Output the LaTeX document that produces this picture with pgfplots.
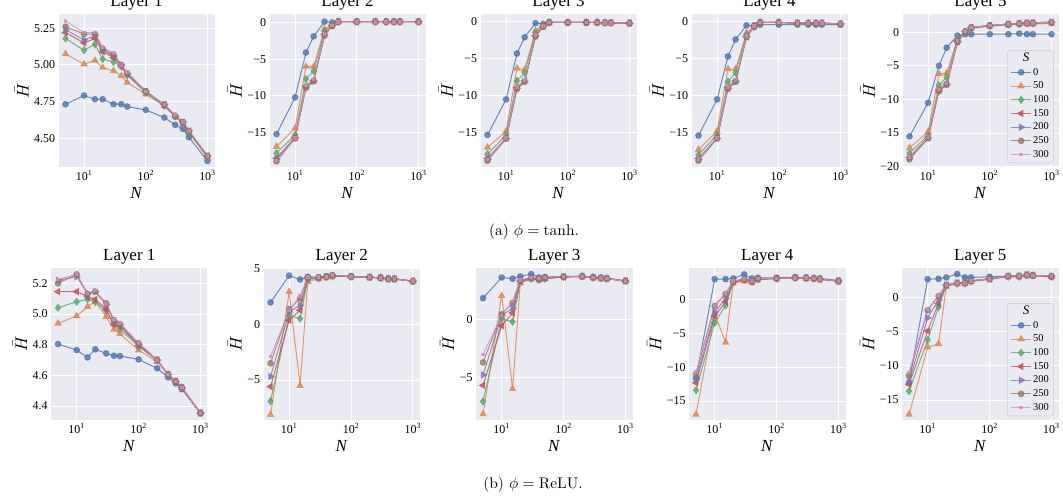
\documentclass[border=0pt]{standalone}
\usepackage{fontspec}
\usepackage{graphicx}
\usepackage{pgfplots}
\usepackage{pgfplotstable}
\pgfplotsset{compat=1.18}
\newfontfamily\tnr{Liberation Serif}
\definecolor{bgc}{HTML}{EAEAF2}
\definecolor{c0}{HTML}{4C72B0}
\definecolor{c1}{HTML}{DD8452}
\definecolor{c2}{HTML}{55A868}
\definecolor{c3}{HTML}{C44E52}
\definecolor{c4}{HTML}{8172B3}
\definecolor{c5}{HTML}{937860}
\definecolor{c6}{HTML}{DA8BC3}

% columns: N, S=0,50,100,150,200,250,300
\pgfplotstableread{
N a b c d e f g
5 4.732 5.075 5.18 5.22 5.24 5.26 5.30
10 4.791 5.005 5.10 5.15 5.17 5.21 5.22
15 4.766 5.03 5.14 5.18 5.20 5.21 5.22
20 4.766 4.982 5.04 5.09 5.10 5.11 5.12
30 4.732 4.959 5.02 5.05 5.06 5.07 5.08
40 4.732 4.925 4.99 4.99 5.00 5.00 5.00
50 4.716 4.88 4.93 4.94 4.94 4.94 4.95
100 4.693 4.80 4.81 4.82 4.82 4.82 4.82
200 4.641 4.72 4.72 4.73 4.73 4.73 4.73
300 4.591 4.65 4.65 4.65 4.65 4.65 4.66
400 4.564 4.60 4.60 4.61 4.61 4.61 4.61
500 4.507 4.54 4.54 4.55 4.55 4.55 4.55
1000 4.345 4.37 4.37 4.38 4.38 4.38 4.38
}\ta
\pgfplotstableread{
N a b c d e f g
5 -15.2 -16.9 -17.8 -18.5 -18.6 -18.9 -18.8
10 -10.2 -14.4 -15.3 -15.6 -15.7 -15.8 -15.7
15 -4.1 -6.0 -7.7 -8.7 -8.8 -8.9 -8.6
20 -1.9 -6.0 -6.6 -7.9 -8.0 -8.0 -7.7
30 0.1 -0.9 -1.2 -1.6 -1.7 -1.8 -1.6
40 0.0 -0.2 -0.3 -0.4 -0.4 -0.5 -0.4
50 0.1 0.1 0.1 0.1 0.1 0.1 0.1
100 0.1 0.1 0.1 0.1 0.1 0.1 0.1
200 0.1 0.1 0.1 0.1 0.1 0.1 0.1
300 0.1 0.1 0.1 0.1 0.1 0.1 0.1
400 0.1 0.1 0.1 0.1 0.1 0.1 0.1
500 0.1 0.1 0.1 0.1 0.1 0.1 0.1
1000 0.1 0.1 0.1 0.1 0.1 0.1 0.1
}\tb
\pgfplotstableread{
N a b c d e f g
5 -15.3 -17.0 -17.9 -18.5 -18.6 -18.8 -18.6
10 -10.5 -14.8 -15.3 -15.7 -15.8 -15.8 -15.7
15 -4.3 -6.3 -8.0 -8.9 -9.0 -9.1 -8.8
20 -2.1 -6.5 -6.9 -8.0 -8.1 -8.1 -7.9
30 -0.2 -1.2 -1.5 -1.9 -1.9 -2.0 -1.8
40 -0.3 -0.4 -0.5 -0.6 -0.6 -0.7 -0.6
50 -0.1 -0.1 -0.1 -0.1 -0.1 -0.1 -0.1
100 -0.1 -0.1 -0.1 -0.1 -0.1 -0.1 -0.1
200 -0.1 -0.1 -0.1 -0.1 -0.1 -0.1 -0.1
300 -0.1 -0.1 -0.1 -0.1 -0.1 -0.1 -0.1
400 -0.15 -0.15 -0.15 -0.15 -0.15 -0.15 -0.15
500 -0.15 -0.15 -0.15 -0.15 -0.15 -0.15 -0.15
1000 -0.2 -0.2 -0.2 -0.2 -0.2 -0.2 -0.2
}\tc
\pgfplotstableread{
N a b c d e f g
5 -15.4 -17.3 -18.0 -18.5 -18.6 -18.8 -18.6
10 -10.5 -14.8 -15.3 -15.7 -15.8 -15.8 -15.7
15 -4.7 -6.4 -8.1 -8.9 -9.0 -9.1 -8.8
20 -2.4 -6.4 -6.9 -8.0 -8.1 -8.1 -7.9
30 -0.5 -1.5 -1.8 -2.0 -2.0 -2.1 -1.9
40 -0.5 -0.6 -0.7 -0.6 -0.6 -0.7 -0.6
50 -0.4 -0.1 -0.1 -0.1 -0.1 -0.1 -0.1
100 -0.4 -0.1 -0.1 -0.1 -0.1 -0.1 -0.1
200 -0.4 -0.2 -0.2 -0.2 -0.2 -0.2 -0.2
300 -0.4 -0.2 -0.2 -0.2 -0.2 -0.2 -0.2
400 -0.4 -0.2 -0.2 -0.2 -0.2 -0.2 -0.2
500 -0.4 -0.2 -0.2 -0.2 -0.2 -0.2 -0.2
1000 -0.4 -0.3 -0.3 -0.3 -0.3 -0.3 -0.3
}\td
\pgfplotstableread{
N a b c d e f g
5 -15.5 -17.2 -18.0 -18.6 -18.7 -18.9 -18.6
10 -10.5 -14.8 -15.3 -15.6 -15.7 -15.8 -15.6
15 -5.0 -6.2 -7.9 -8.6 -8.7 -8.8 -8.5
20 -2.3 -6.1 -6.7 -7.7 -7.8 -7.8 -7.6
30 -0.5 -1.0 -1.2 -1.4 -1.4 -1.5 -1.3
40 -0.3 0.0 0.0 0.1 0.1 0.1 0.1
50 -0.3 0.6 0.6 0.7 0.7 0.7 0.7
100 -0.3 0.9 0.9 1.0 1.0 1.0 1.0
200 -0.3 1.1 1.1 1.2 1.2 1.2 1.2
300 -0.2 1.2 1.2 1.3 1.3 1.3 1.3
400 -0.3 1.2 1.3 1.4 1.4 1.4 1.4
500 -0.3 1.2 1.3 1.4 1.4 1.4 1.4
1000 -0.3 1.3 1.4 1.5 1.5 1.5 1.5
}\te
\pgfplotstableread{
N a b c d e f g
5 4.804 4.939 5.041 5.146 5.22 5.20 5.226
10 4.765 4.987 5.08 5.146 5.243 5.259 5.259
15 4.717 5.048 5.096 5.113 5.135 5.13 5.135
20 4.770 5.08 5.078 5.096 5.146 5.146 5.152
30 4.743 4.983 5.02 5.03 5.06 5.07 5.065
40 4.728 4.90 4.94 4.93 4.955 4.96 4.965
50 4.726 4.87 4.90 4.92 4.93 4.935 4.94
100 4.704 4.765 4.79 4.795 4.80 4.81 4.81
200 4.646 4.69 4.70 4.70 4.70 4.70 4.70
300 4.587 4.605 4.605 4.605 4.605 4.605 4.605
400 4.548 4.56 4.56 4.56 4.56 4.56 4.56
500 4.51 4.52 4.52 4.52 4.52 4.52 4.52
1000 4.352 4.355 4.355 4.355 4.355 4.355 4.355
}\tf
\pgfplotstableread{
N a b c d e f g
5 1.95 -8.1 -6.9 -5.6 -4.7 -3.5 -2.9
10 4.35 2.9 0.8 0.35 1.1 1.35 1.25
15 4.0 -5.5 0.5 1.25 1.7 2.3 2.5
20 4.25 3.8 4.0 4.1 4.1 4.15 4.2
30 4.2 4.1 4.1 4.15 4.15 4.15 4.2
40 4.3 4.2 4.2 4.25 4.25 4.25 4.25
50 4.35 4.3 4.3 4.35 4.35 4.35 4.4
100 4.3 4.25 4.25 4.25 4.25 4.25 4.25
200 4.2 4.2 4.2 4.2 4.2 4.2 4.2
300 4.15 4.15 4.15 4.15 4.15 4.15 4.15
400 4.1 4.05 4.05 4.05 4.05 4.05 4.05
500 4.05 4.05 4.05 4.05 4.05 4.05 4.05
1000 3.85 3.85 3.85 3.85 3.85 3.85 3.85
}\tg
\pgfplotstableread{
N a b c d e f g
5 1.9 -8.2 -7.1 -5.7 -4.8 -3.7 -3.0
10 3.7 2.1 0.1 -0.5 0.4 0.5 0.4
15 3.6 -6.0 -0.15 0.6 1.0 1.5 1.6
20 3.8 3.2 3.3 3.4 3.4 3.45 3.5
30 4.0 3.6 3.6 3.65 3.65 3.65 3.7
40 3.7 3.5 3.5 3.55 3.55 3.55 3.6
50 3.75 3.6 3.6 3.65 3.65 3.65 3.7
100 3.8 3.75 3.75 3.75 3.75 3.75 3.8
200 3.8 3.8 3.8 3.8 3.8 3.8 3.8
300 3.75 3.7 3.7 3.7 3.7 3.7 3.7
400 3.7 3.65 3.65 3.65 3.65 3.65 3.65
500 3.65 3.6 3.6 3.6 3.6 3.6 3.6
1000 3.4 3.4 3.4 3.4 3.4 3.4 3.4
}\th
\pgfplotstableread{
N a b c d e f g
5 -11.6 -17.0 -13.4 -12.3 -11.8 -11.0 -10.7
10 3.1 -2.0 -3.4 -2.4 -1.8 -0.9 -0.8
15 3.1 -6.3 -0.8 -0.3 0.2 0.9 1.0
20 3.2 2.5 2.6 2.7 2.7 2.8 2.8
30 3.8 2.8 3.0 3.0 3.1 3.1 3.1
40 3.2 2.6 2.7 2.7 2.8 2.8 2.8
50 3.3 3.0 3.1 3.1 3.1 3.2 3.2
100 3.3 3.2 3.2 3.2 3.2 3.2 3.2
200 3.4 3.3 3.3 3.3 3.3 3.3 3.3
300 3.3 3.2 3.2 3.3 3.3 3.3 3.3
400 3.2 3.2 3.2 3.2 3.2 3.2 3.2
500 3.2 3.1 3.1 3.1 3.1 3.1 3.1
1000 2.9 2.8 2.8 2.8 2.8 2.8 2.8
}\ti
\pgfplotstableread{
N a b c d e f g
5 -12.5 -17.1 -13.7 -12.7 -12.3 -11.4 -11.0
10 2.65 -7.3 -6.2 -4.9 -3.0 -1.9 -1.8
15 2.7 -6.8 -1.4 -0.9 -0.4 0.2 0.3
20 2.9 1.6 1.7 1.8 1.8 1.8 1.8
30 3.4 2.0 2.0 2.1 2.1 2.1 2.1
40 2.9 2.0 2.0 2.1 2.1 2.1 2.1
50 2.9 2.3 2.3 2.4 2.4 2.4 2.4
100 3.0 2.6 2.7 2.7 2.7 2.7 2.7
200 3.1 3.0 3.0 3.1 3.1 3.1 3.1
300 3.1 3.0 3.0 3.1 3.1 3.1 3.1
400 3.2 3.2 3.2 3.3 3.3 3.3 3.3
500 3.2 3.1 3.2 3.2 3.2 3.2 3.2
1000 3.0 3.0 3.0 3.0 3.1 3.1 3.1
}\tj

\pgfplotsset{
  s0/.style={color=c0, line width=1bp, mark=*, mark size=2.8bp,
    mark options={solid, fill=c0, draw=c0, opacity=0.75}, draw opacity=0.8},
  s1/.style={color=c1, line width=1bp, mark=triangle*, mark size=3.4bp,
    mark options={solid, fill=c1, draw=c1, opacity=0.75}, draw opacity=0.8},
  s2/.style={color=c2, line width=1bp, mark=diamond*, mark size=3.4bp,
    mark options={solid, fill=c2, draw=c2, opacity=0.75}, draw opacity=0.8},
  s3/.style={color=c3, line width=1bp, mark=triangle*, mark size=3.4bp,
    mark options={solid, fill=c3, draw=c3, opacity=0.75, rotate=90}, draw opacity=0.8},
  s4/.style={color=c4, line width=1bp, mark=triangle*, mark size=3.4bp,
    mark options={solid, fill=c4, draw=c4, opacity=0.75, rotate=-90}, draw opacity=0.8},
  s5/.style={color=c5, line width=1bp, mark=*, mark size=2.8bp,
    mark options={solid, fill=c5, draw=c5, opacity=0.75}, draw opacity=0.8},
  s6/.style={color=c6, line width=1bp, mark=square*, mark size=1.3bp,
    mark options={solid, fill=c6, draw=c6, opacity=0.75}, draw opacity=0.8},
}
\pgfplotsset{
    scale only axis,
    axis background/.style={fill=bgc},
    axis line style={draw=none},
    grid=major, major grid style={white, line width=1bp},
    major tick length=0pt, minor tick length=0pt,
    tick label style={font=\tnr\fontsize{12}{14}\selectfont},
    xlabel style={font=\tnr\fontsize{17}{20}\selectfont},
    ylabel style={inner sep=2bp},
    title style={font=\tnr\fontsize{17}{20}\selectfont, at={(0.5,1)}, anchor=base, yshift=2bp},
    legend image code/.code={\draw[mark repeat=2,mark phase=2] plot coordinates {(0bp,0bp) (10bp,0bp) (20bp,0bp)};},
    legend style={at={(0.968,0.026)}, anchor=south east,
      fill=bgc, fill opacity=0.8, text opacity=1, draw=black!20, rounded corners=2bp,
      font=\tnr\fontsize{10.5}{12}\selectfont, inner xsep=3bp, inner ysep=2bp,
      row sep=1.2bp, nodes={inner sep=1.5bp, text height=7.5bp, text depth=2bp},
      /tikz/every even column/.append style={column sep=5bp}},
    legend cell align=left,
}
\newcommand{\plotall}[1]{%
  \addplot[s0] table[x=N,y=a]{#1};
  \addplot[s1] table[x=N,y=b]{#1};
  \addplot[s2] table[x=N,y=c]{#1};
  \addplot[s3] table[x=N,y=d]{#1};
  \addplot[s4] table[x=N,y=e]{#1};
  \addplot[s5] table[x=N,y=f]{#1};
  \addplot[s6] table[x=N,y=g]{#1};
}
\newcommand{\legS}{\legend{\hspace*{-12bp}{\fontsize{13}{14}\selectfont\textit{S}},0,50,100,150,200,250,300}}
\newcommand{\xl}{\textit{N}}
\newcommand{\yl}{\scalebox{1.7}{$\bar{H}$}}

\begin{document}
\begin{tikzpicture}
\path[use as bounding box] (0,0) rectangle (1063bp,501bp);
% ---- top row (tanh)
\begin{axis}[xmode=log, xmin=3.85, xmax=1300, xtick={10,100,1000},
  xticklabels={10\textsuperscript{1},10\textsuperscript{2},10\textsuperscript{3}},
  xlabel=\xl, ylabel=\yl,
  anchor=south west, width=156bp, height=153bp, at={(58.5bp,334bp)}, title={Layer 1},
  ymin=4.304, ymax=5.347, ytick={4.5,4.75,5,5.25}, yticklabels={4.50,4.75,5.00,5.25}]
\plotall{\ta}
\end{axis}
\begin{axis}[xmode=log, xmin=3.85, xmax=1300, xtick={10,100,1000},
  xticklabels={10\textsuperscript{1},10\textsuperscript{2},10\textsuperscript{3}},
  xlabel=\xl, ylabel=\yl,
  anchor=south west, width=156bp, height=153bp, at={(269.5bp,334bp)}, title={Layer 2},
  ymin=-19.68, ymax=1.15, ytick={-15,-10,-5,0}, yticklabels={−15,−10,−5,0}]
\plotall{\tb}
\end{axis}
\begin{axis}[xmode=log, xmin=3.85, xmax=1300, xtick={10,100,1000},
  xticklabels={10\textsuperscript{1},10\textsuperscript{2},10\textsuperscript{3}},
  xlabel=\xl, ylabel=\yl,
  anchor=south west, width=156bp, height=153bp, at={(480.5bp,334bp)}, title={Layer 3},
  ymin=-19.64, ymax=1.04, ytick={-15,-10,-5,0}, yticklabels={−15,−10,−5,0}]
\plotall{\tc}
\end{axis}
\begin{axis}[xmode=log, xmin=3.85, xmax=1300, xtick={10,100,1000},
  xticklabels={10\textsuperscript{1},10\textsuperscript{2},10\textsuperscript{3}},
  xlabel=\xl, ylabel=\yl,
  anchor=south west, width=156bp, height=153bp, at={(691.5bp,334bp)}, title={Layer 4},
  ymin=-19.65, ymax=1.04, ytick={-15,-10,-5,0}, yticklabels={−15,−10,−5,0}]
\plotall{\td}
\end{axis}
\begin{axis}[xmode=log, xmin=3.85, xmax=1300, xtick={10,100,1000},
  xticklabels={10\textsuperscript{1},10\textsuperscript{2},10\textsuperscript{3}},
  xlabel=\xl, ylabel=\yl,
  anchor=south west, width=156bp, height=153bp, at={(902.5bp,334bp)}, title={Layer 5},
  ymin=-20.05, ymax=2.71, ytick={-20,-15,-10,-5,0}, yticklabels={−20,−15,−10,−5,0}]
\addlegendimage{empty legend}
\plotall{\te}
\legS
\end{axis}
% ---- bottom row (ReLU)
\begin{axis}[xmode=log, xmin=3.85, xmax=1300, xtick={10,100,1000},
  xticklabels={10\textsuperscript{1},10\textsuperscript{2},10\textsuperscript{3}},
  xlabel=\xl, ylabel=\yl,
  anchor=south west, width=156.5bp, height=152bp, at={(51bp,81bp)}, title={Layer 1},
  ymin=4.309, ymax=5.30, ytick={4.4,4.6,4.8,5.0,5.2}, yticklabels={4.4,4.6,4.8,5.0,5.2}]
\plotall{\tf}
\end{axis}
\begin{axis}[xmode=log, xmin=3.85, xmax=1300, xtick={10,100,1000},
  xticklabels={10\textsuperscript{1},10\textsuperscript{2},10\textsuperscript{3}},
  xlabel=\xl, ylabel=\yl,
  anchor=south west, width=156.5bp, height=152bp, at={(263.5bp,81bp)}, title={Layer 2},
  ymin=-8.58, ymax=5.03, ytick={-5,0,5}, yticklabels={−5,0,5}]
\plotall{\tg}
\end{axis}
\begin{axis}[xmode=log, xmin=3.85, xmax=1300, xtick={10,100,1000},
  xticklabels={10\textsuperscript{1},10\textsuperscript{2},10\textsuperscript{3}},
  xlabel=\xl, ylabel=\yl,
  anchor=south west, width=156.5bp, height=152bp, at={(476bp,81bp)}, title={Layer 3},
  ymin=-8.72, ymax=4.53, ytick={-5,0}, yticklabels={−5,0}]
\plotall{\th}
\end{axis}
\begin{axis}[xmode=log, xmin=3.85, xmax=1300, xtick={10,100,1000},
  xticklabels={10\textsuperscript{1},10\textsuperscript{2},10\textsuperscript{3}},
  xlabel=\xl, ylabel=\yl,
  anchor=south west, width=156.5bp, height=152bp, at={(689bp,81bp)}, title={Layer 4},
  ymin=-17.82, ymax=4.75, ytick={-15,-10,-5,0}, yticklabels={−15,−10,−5,0}]
\plotall{\ti}
\end{axis}
\begin{axis}[xmode=log, xmin=3.85, xmax=1300, xtick={10,100,1000},
  xticklabels={10\textsuperscript{1},10\textsuperscript{2},10\textsuperscript{3}},
  xlabel=\xl, ylabel=\yl,
  anchor=south west, width=156.5bp, height=152bp, at={(902bp,81bp)}, title={Layer 5},
  ymin=-17.92, ymax=4.28, ytick={-15,-10,-5,0}, yticklabels={−15,−10,−5,0}]
\addlegendimage{empty legend}
\plotall{\tj}
\legS
\end{axis}
% captions
\node at (534bp,269bp) {\scalebox{1.55}{(a) $\phi=\tanh$.}};
\node at (533bp,16bp) {\scalebox{1.55}{(b) $\phi=\mathrm{ReLU}$.}};
\end{tikzpicture}
\end{document}
